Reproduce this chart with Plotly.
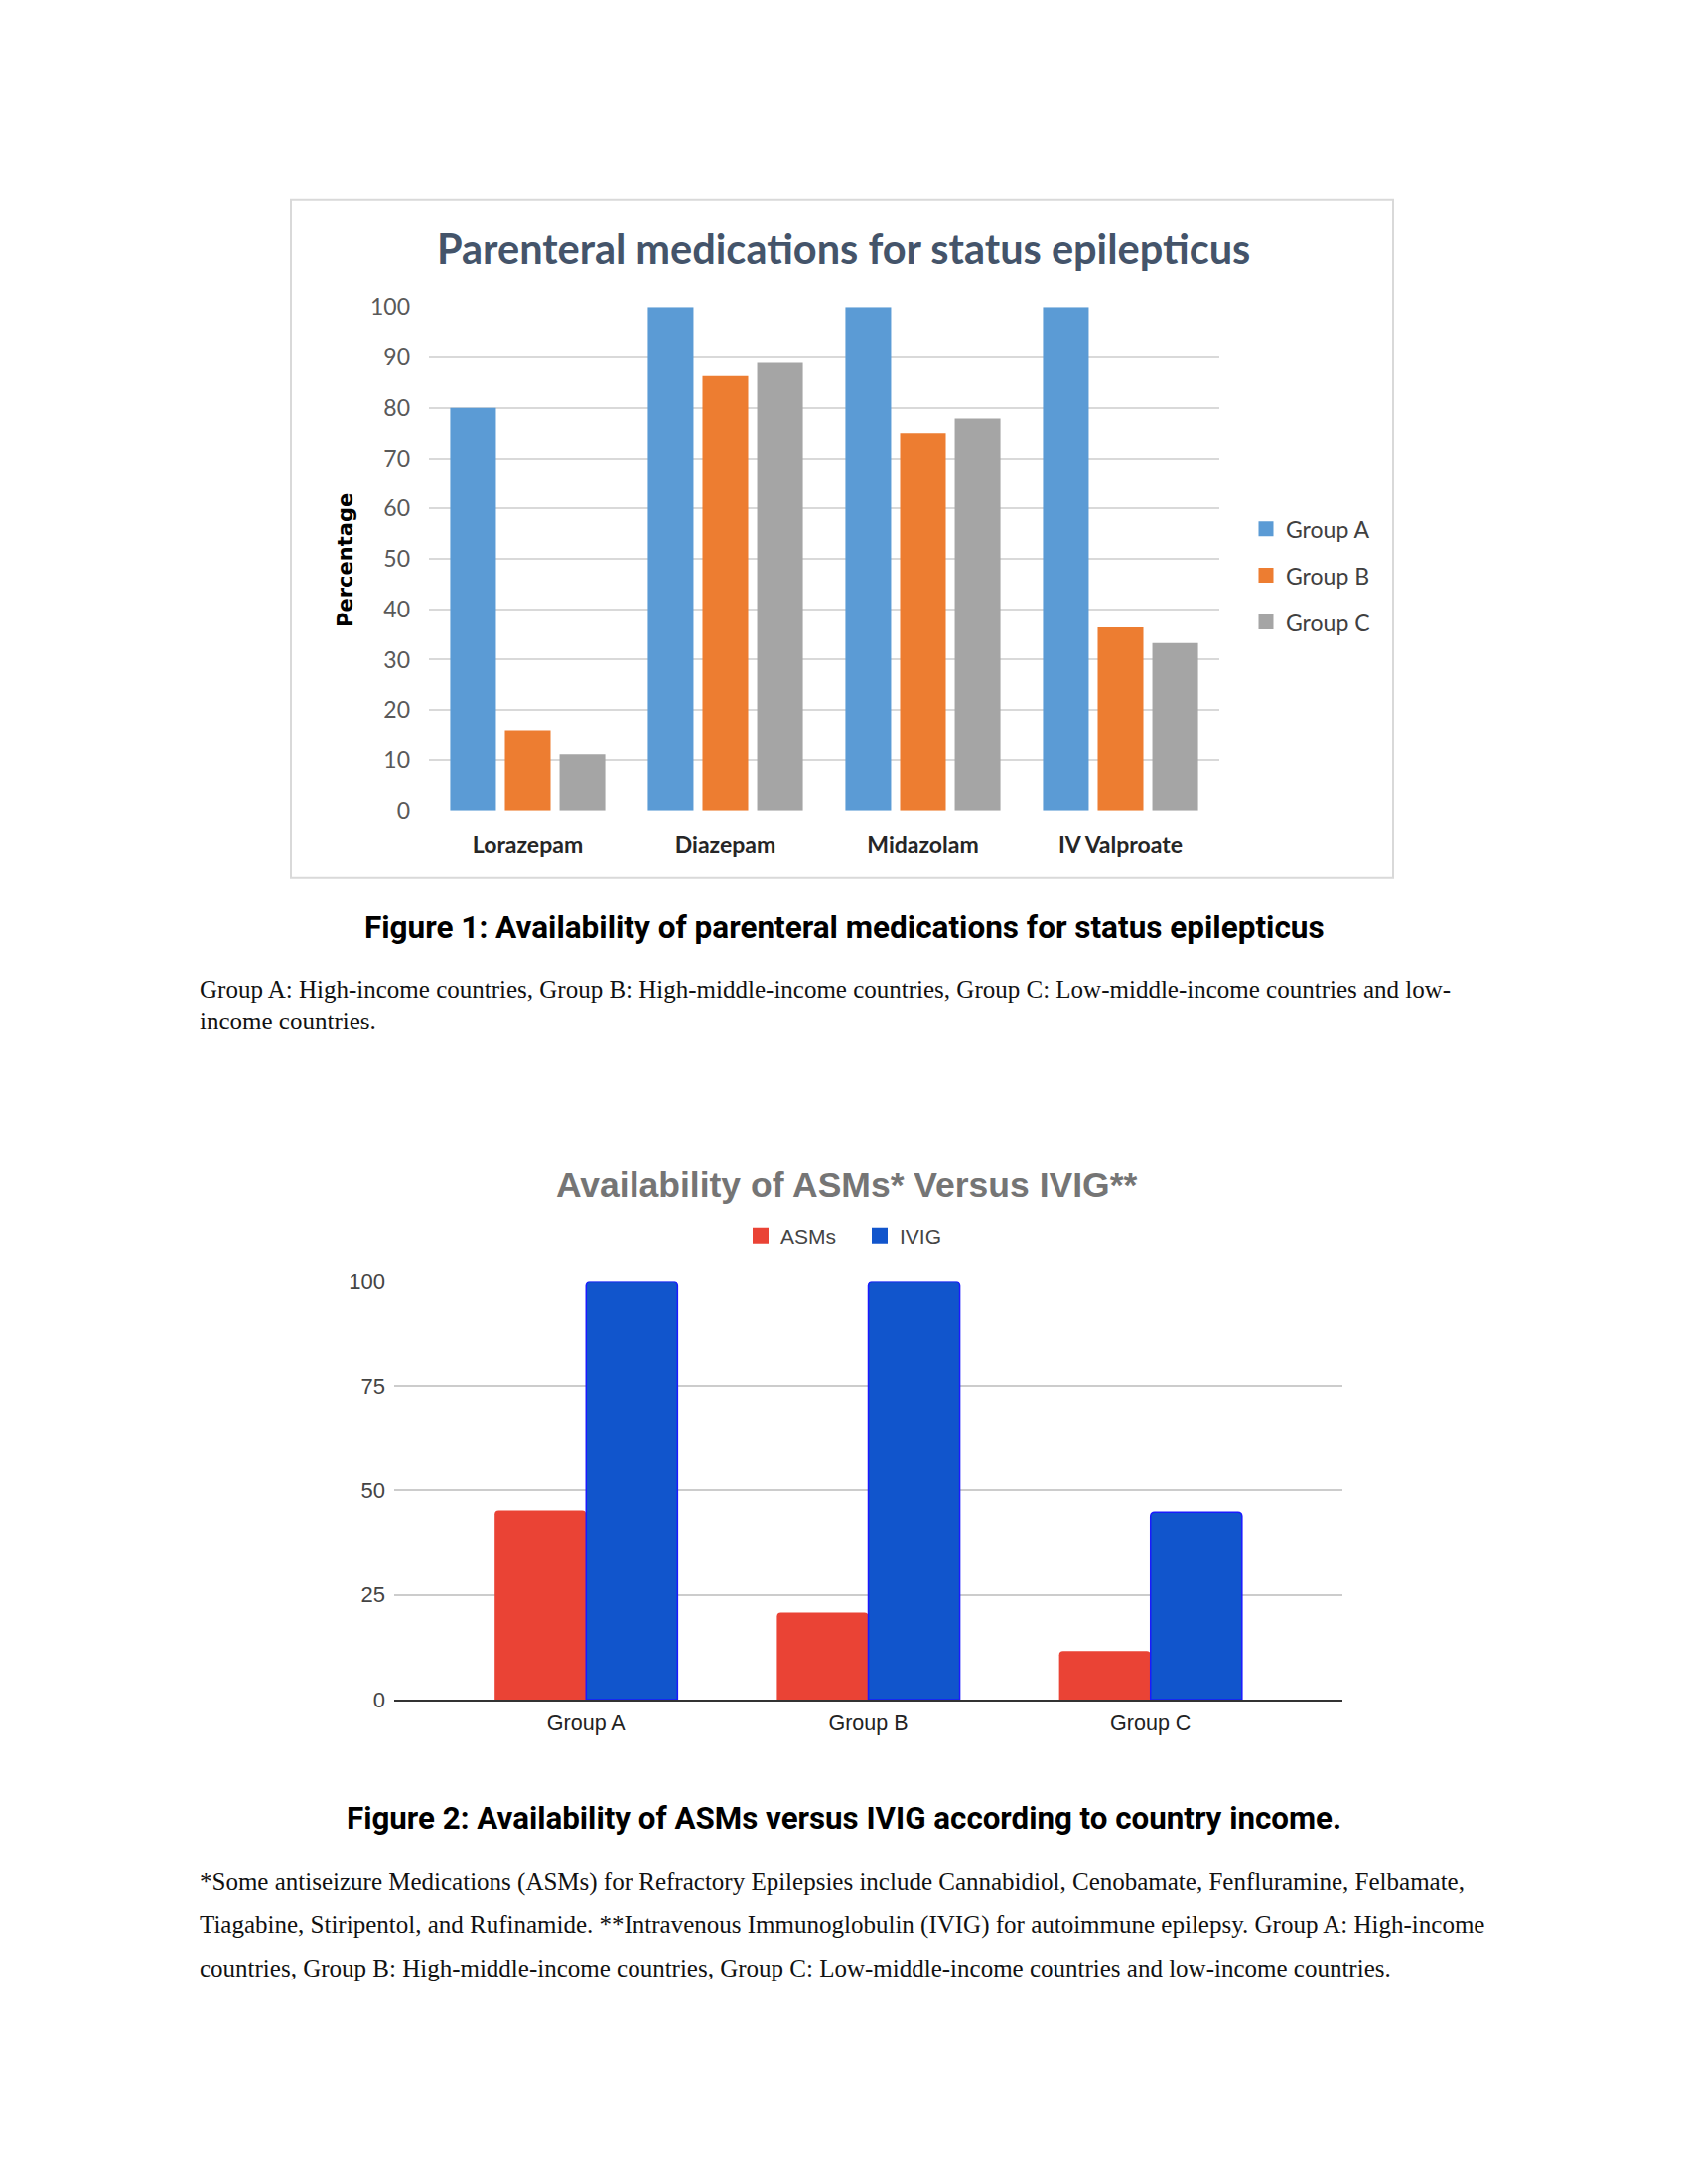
import plotly.graph_objects as go

# ---------------- data ----------------
drugs = ["Lorazepam", "Diazepam", "Midazolam", "IV Valproate"]
group_names = ["Group A", "Group B", "Group C"]
group_a = [80, 100, 100, 100]
group_b = [16, 86.3, 75, 36.4]
group_c = [11.1, 88.9, 77.9, 33.3]
y1_ticks = [0, 10, 20, 30, 40, 50, 60, 70, 80, 90, 100]

groups2 = ["Group A", "Group B", "Group C"]
asms = [45.2, 20.8, 11.6]
ivig = [100, 100, 44.8]
y2_ticks = [0, 25, 50, 75, 100]

# page is 1700x2200; the HTML body has an 8px margin, so the figure is drawn 8px in
PAGE_OFF = 8
W, H = 1700 - 2 * PAGE_OFF, 2200 - 2 * PAGE_OFF
def fx(p): return (p - PAGE_OFF) / W
def fy(p): return 1 - (p - PAGE_OFF) / H

calibri = "Lato, Carlito, Calibri, sans-serif"
arial = "Liberation Sans, Arial, sans-serif"
aptos = "Liberation Sans Narrow, Arial Narrow, Roboto, sans-serif"
times = "Liberation Serif, Times New Roman, serif"

fig = go.Figure()

# ---------------- chart 1 ----------------
c1_colors = ["#5B9BD5", "#ED7D31", "#A5A5A5"]
for name, vals, col in zip(group_names, [group_a, group_b, group_c], c1_colors):
    fig.add_trace(go.Bar(x=drugs, y=vals, name=name, marker=dict(color=col, line=dict(width=0)),
                         xaxis="x", yaxis="y", showlegend=False))
    # legend entry (square swatch)
    fig.add_trace(go.Scatter(x=[None], y=[None], mode="markers", name=name, xaxis="x", yaxis="y",
                             marker=dict(symbol="square", size=15, color=col),
                             legend="legend", legendgroup=name))

# ---------------- chart 2 ----------------
bw = 0.324
c2_colors = ["#EA4335", "#1155CC"]
fig.add_trace(go.Bar(x=groups2, y=asms, name="ASMs", xaxis="x2", yaxis="y2", showlegend=False,
                     width=bw, offset=-bw,
                     marker=dict(color=c2_colors[0], line=dict(width=0), cornerradius=4)))
fig.add_trace(go.Bar(x=groups2, y=ivig, name="IVIG", xaxis="x2", yaxis="y2", showlegend=False,
                     width=bw, offset=0,
                     marker=dict(color=c2_colors[1], line=dict(width=1.5, color="#1a1aff"), cornerradius=4)))
for name, col in zip(["ASMs", "IVIG"], c2_colors):
    fig.add_trace(go.Scatter(x=[None], y=[None], mode="markers", name=name, xaxis="x2", yaxis="y2",
                             marker=dict(symbol="square", size=16, color=col), legend="legend2"))

fig.update_layout(
    width=W, height=H, margin=dict(l=0, r=0, t=0, b=0),
    paper_bgcolor="white", plot_bgcolor="white",
    barmode="group", bargap=0.17, bargroupgap=0.164,
    showlegend=True,
    xaxis=dict(domain=[fx(432), fx(1228)], anchor="y", type="category", range=[-0.5, 3.5],
               showgrid=False, showline=False, zeroline=False, ticks="",
               tickfont=dict(family=calibri, size=23, color="#262626", weight="bold"),
               ticklabelstandoff=18),
    yaxis=dict(domain=[fy(812), fy(298)], anchor="x", range=[0, 100], tickvals=y1_ticks,
               showgrid=True, gridcolor="#D9D9D9", gridwidth=2, zeroline=False, showline=False,
               ticks="", tickfont=dict(family=calibri, size=23, color="#595959"),
               ticklabelstandoff=18),
    xaxis2=dict(domain=[fx(397), fx(1352)], anchor="y2", type="category", range=[-0.68, 2.68],
                showgrid=False, zeroline=False, showline=True, linecolor="#333333", linewidth=2,
                ticks="", tickfont=dict(family=arial, size=21.5, color="#222222"),
                ticklabelstandoff=3),
    yaxis2=dict(domain=[fy(1719), fy(1292)], anchor="x2", range=[0, 100], tickvals=y2_ticks,
                showgrid=True, gridcolor="#CCCCCC", gridwidth=1.5, zeroline=False, showline=False,
                ticks="", tickfont=dict(family=arial, size=22, color="#444444"),
                ticklabelstandoff=8),
    legend=dict(x=fx(1255), y=fy(572), xanchor="left", yanchor="middle", orientation="v",
                font=dict(family=calibri, size=23, color="#404040"), tracegroupgap=14,
                itemsizing="trace", bgcolor="rgba(0,0,0,0)"),
    legend2=dict(x=fx(746), y=fy(1246), xanchor="left", yanchor="middle", orientation="h",
                 font=dict(family=arial, size=21, color="#444444"), entrywidth=75,
                 itemsizing="trace", bgcolor="rgba(0,0,0,0)"),
)

# box around chart 1
fig.add_shape(type="rect", xref="paper", yref="paper", x0=fx(293), x1=fx(1403), y0=fy(880), y1=fy(188),
              line=dict(color="#D9D9D9", width=2), fillcolor="rgba(0,0,0,0)", layer="below")

ann = []
ann.append(dict(text="Parenteral medications for status epilepticus", x=fx(849), y=fy(238),
                font=dict(family=calibri, size=41.5, color="#44546A", weight="bold")))
ann.append(dict(text="Percentage", x=fx(348), y=fy(557), textangle=-90,
                font=dict(family="DejaVu Sans, sans-serif", size=21, color="#000000", weight="bold")))
ann.append(dict(text="Figure 1: Availability of parenteral medications for status epilepticus", x=fx(850), y=fy(931),
                font=dict(family=aptos, size=31.5, color="#000000", weight="bold")))
ann.append(dict(text="Group A: High-income countries, Group B: High-middle-income countries, Group C: Low-middle-income countries and low-",
                x=fx(199), y=fy(994), xanchor="left", font=dict(family=times, size=25, color="#111111")))
ann.append(dict(text="income countries.", x=fx(199), y=fy(1027), xanchor="left",
                font=dict(family=times, size=25, color="#111111")))
ann.append(dict(text="Availability of ASMs* Versus IVIG**", x=fx(852), y=fy(1194),
                font=dict(family=arial, size=35.5, color="#757575", weight="bold")))
ann.append(dict(text="Figure 2: Availability of ASMs versus IVIG according to country income.", x=fx(850), y=fy(1840),
                font=dict(family=aptos, size=31.3, color="#000000", weight="bold")))
cap2 = [
    "*Some antiseizure Medications (ASMs) for Refractory Epilepsies include Cannabidiol, Cenobamate, Fenfluramine, Felbamate,",
    "Tiagabine, Stiripentol, and Rufinamide. **Intravenous Immunoglobulin (IVIG) for autoimmune epilepsy. Group A: High-income",
    "countries, Group B: High-middle-income countries, Group C: Low-middle-income countries and low-income countries.",
]
for i, line in enumerate(cap2):
    ann.append(dict(text=line, x=fx(199), y=fy(1905 + 44 * i), xanchor="left",
                    font=dict(family=times, size=25, color="#111111")))

for a in ann:
    a.setdefault("xanchor", "center")
    a.update(xref="paper", yref="paper", yanchor="middle", showarrow=False)
fig.update_layout(annotations=ann)

fig.write_html("out.html")
